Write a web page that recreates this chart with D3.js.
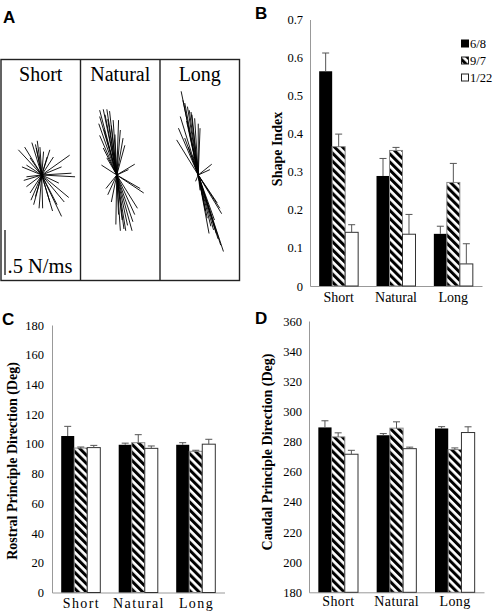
<!DOCTYPE html>
<html><head><meta charset="utf-8">
<script src="https://cdn.jsdelivr.net/npm/d3@7"></script>
<style>
html,body{margin:0;padding:0;background:#fff;}
svg{display:block;}
text{font-family:"Liberation Serif","Times New Roman",serif;fill:#000;}
.plab{font-family:"Liberation Sans",Arial,sans-serif;font-weight:bold;font-size:17px;}
</style></head><body>
<svg id="c" width="494" height="612"></svg>
<script>
// ---------- data ----------
const categories = ["Short", "Natural", "Long"];
const seriesNames = ["6/8", "9/7", "1/22"];

// Panel B: Shape Index
const shape68 = [0.564, 0.289, 0.137];
const shape68Err = [0.048, 0.046, 0.020];
const shape97 = [0.366, 0.356, 0.272];
const shape97Err = [0.033, 0.008, 0.050];
const shape122 = [0.141, 0.136, 0.058];
const shape122Err = [0.020, 0.052, 0.053];
const shapeTicks = [0, 0.1, 0.2, 0.3, 0.4, 0.5, 0.6, 0.7];

// Panel C: Rostral principle direction (deg)
const rostral68 = [105.3, 99.4, 99.4];
const rostral68Err = [6.5, 1.1, 1.4];
const rostral97 = [97.2, 100.8, 95.0];
const rostral97Err = [0.7, 5.4, 0.7];
const rostral122 = [97.5, 97.0, 99.8];
const rostral122Err = [1.5, 1.6, 3.3];
const rostralTicks = [0, 20, 40, 60, 80, 100, 120, 140, 160, 180];

// Panel D: Caudal principle direction (deg)
const caudal68 = [289.4, 284.2, 288.7];
const caudal68Err = [4.4, 1.1, 1.2];
const caudal97 = [283.1, 288.9, 274.7];
const caudal97Err = [2.7, 4.2, 1.1];
const caudal122 = [271.6, 275.3, 286.0];
const caudal122Err = [2.6, 1.0, 3.8];
const caudalTicks = [180, 200, 220, 240, 260, 280, 300, 320, 340, 360];

// Panel A: force vectors [horizontal, vertical(up)] in N/ms
const shortForces = [[-0.26,0.28],[-0.19,0.31],[-0.11,0.36],[-0.07,0.34],[-0.06,0.30],[0.02,0.26],[0.09,0.28],[0.13,0.20],[0.31,0.22],[0.22,0.09],[0.37,-0.02],[0.33,0.02],[0.19,-0.09],[0.30,-0.25],[0.22,-0.46],[0.17,-0.33],[0.09,-0.30],[0.01,-0.37],[-0.03,-0.37],[-0.07,-0.24],[-0.13,-0.20],[-0.17,-0.13],[-0.20,-0.06],[-0.17,-0.02],[-0.22,0.09],[-0.17,0.11],[-0.13,0.19],[-0.02,0.31],[0.06,0.20],[-0.09,-0.33],[-0.05,0.38],[0.12,-0.40],[0.25,-0.30],[-0.12,-0.28]];
const naturalForces = [[-0.19,0.72],[-0.15,0.73],[-0.11,0.73],[-0.08,0.71],[-0.20,0.57],[-0.19,0.65],[-0.13,0.67],[-0.04,0.61],[0.02,0.61],[0.07,0.41],[0.09,0.33],[-0.19,0.44],[-0.15,0.30],[-0.11,0.19],[-0.17,0.11],[0.20,0.12],[0.13,0.06],[0.30,-0.20],[0.26,-0.15],[0.04,-0.62],[0.08,-0.60],[0.12,-0.56],[0.17,-0.62],[0.18,-0.52],[0.20,-0.44],[0.23,-0.37],[-0.01,-0.55],[-0.06,-0.30],[-0.10,-0.22],[-0.12,-0.15],[0.02,-0.44],[-0.10,0.62],[-0.06,0.55],[-0.14,0.50],[0.04,0.50],[-0.02,0.45],[0.06,-0.50],[0.10,-0.62]];
const longForces = [[-0.19,0.93],[-0.17,0.83],[-0.15,0.80],[-0.12,0.76],[-0.10,0.72],[-0.07,0.67],[-0.04,0.63],[0.00,0.57],[0.02,0.52],[-0.20,0.65],[-0.22,0.52],[-0.24,0.39],[-0.15,0.41],[-0.11,0.31],[-0.06,0.22],[0.15,0.12],[0.13,0.06],[0.28,-0.85],[0.25,-0.78],[0.22,-0.71],[0.20,-0.65],[0.17,-0.61],[0.14,-0.57],[0.26,-0.43],[0.24,-0.37],[0.21,-0.31],[0.06,-0.28],[0.02,-0.17],[-0.03,-0.07],[0.10,-0.48],[0.12,-0.65],[-0.08,0.70],[-0.13,0.60],[0.18,-0.50],[0.08,-0.40]];
const scaleBarValue = 0.5;

// ---------- drawing ----------
const svg = d3.select("#c");
const defs = svg.append("defs");
const pat = defs.append("pattern").attr("id","hatch").attr("patternUnits","userSpaceOnUse")
  .attr("width",5.7).attr("height",10).attr("patternTransform","rotate(-45)");
pat.append("rect").attr("width",5.7).attr("height",10).attr("fill","#fff");
pat.append("rect").attr("width",3.0).attr("height",10).attr("fill","#000");

const fills = ["#000", "url(#hatch)", "#fff"];
const strokes = ["none", "#888", "#333"];

function barPanel(o) {
  const g = svg.append("g");
  const y = d3.scaleLinear().domain(o.domain).range([o.y0, o.y1]);
  const x = d3.scaleBand().domain(categories).range([o.x0, o.x1]).paddingInner(0.32).paddingOuter(0.16);
  const xs = d3.scaleBand().domain(seriesNames).range([0, x.bandwidth()]);
  // axes
  const ya = g.append("g").attr("transform", `translate(${o.x0},0)`)
    .call(d3.axisLeft(y).tickValues(o.ticks).tickFormat(o.fmt).tickSizeInner(0).tickSizeOuter(0).tickPadding(o.tpad));
  ya.select(".domain").attr("stroke","#999");
  ya.selectAll("text").attr("font-family","Liberation Serif, Times New Roman, serif").attr("font-size", 12.5).attr("fill","#000");
  const xAxisScale = d3.scaleBand().domain(categories).range([o.x0, o.x1]).paddingInner(0.32).paddingOuter(0.16);
  const xa = g.append("g").attr("transform", `translate(0,${o.y0})`)
    .call(d3.axisBottom(xAxisScale).tickSizeInner(0).tickSizeOuter(0).tickPadding(o.xpad));
  xa.select(".domain").attr("stroke","#999");
  xa.selectAll("text").attr("font-family","Liberation Serif, Times New Roman, serif")
    .attr("font-size", o.xfs).attr("letter-spacing", o.ls).attr("fill","#000")
    .attr("dx", o.ls/2);
  // bars
  o.values.forEach((vals, si) => {
    categories.forEach((c, ci) => {
      const bx = x(c) + xs(seriesNames[si]);
      const v = vals[ci], e = o.errs[si][ci];
      const top = y(v);
      g.append("rect").attr("x", bx).attr("y", top).attr("width", xs.bandwidth())
        .attr("height", o.y0 - top).attr("fill", fills[si])
        .attr("stroke", strokes[si]).attr("stroke-width", strokes[si] === "none" ? 0 : 1);
      const cx = bx + xs.bandwidth()/2;
      g.append("line").attr("x1", cx).attr("x2", cx).attr("y1", top).attr("y2", y(v + e))
        .attr("stroke", "#555").attr("stroke-width", 1);
      g.append("line").attr("x1", cx - 3.5).attr("x2", cx + 3.5).attr("y1", y(v + e)).attr("y2", y(v + e))
        .attr("stroke", "#555").attr("stroke-width", 1);
    });
  });
  // title
  g.append("text").attr("transform", `translate(${o.tx},${o.ty}) rotate(-90)`)
    .attr("text-anchor","middle").attr("font-weight","bold").attr("font-size", 14).text(o.title);
  return g;
}

barPanel({
  domain:[0,0.7], y0:286, y1:19.5, x0:310, x1:482, ticks:shapeTicks,
  fmt:d => d === 0 ? "0" : d3.format(".1f")(d), tpad:7, xpad:6, xfs:14, ls:0,
  values:[shape68, shape97, shape122], errs:[shape68Err, shape97Err, shape122Err],
  title:"Shape Index", tx:282, ty:149
});
barPanel({
  domain:[0,180], y0:592.5, y1:325, x0:52, x1:224.5, ticks:rostralTicks,
  fmt:d3.format("d"), tpad:8, xpad:6, xfs:14, ls:1.4,
  values:[rostral68, rostral97, rostral122], errs:[rostral68Err, rostral97Err, rostral122Err],
  title:"Rostral Principle Direction (Deg)", tx:17, ty:461
});
barPanel({
  domain:[180,360], y0:592.3, y1:321, x0:309, x1:484, ticks:caudalTicks,
  fmt:d3.format("d"), tpad:7, xpad:4, xfs:14, ls:0.4,
  values:[caudal68, caudal97, caudal122], errs:[caudal68Err, caudal97Err, caudal122Err],
  title:"Caudal Principle Direction (Deg)", tx:272, ty:452
});

// legend (panel B)
const leg = svg.append("g").attr("transform","translate(461,44)");
seriesNames.forEach((s, i) => {
  const r = leg.append("g").attr("transform", `translate(0,${i*17})`);
  r.append("rect").attr("x",0.5).attr("y",-4).attr("width",7).attr("height",7)
    .attr("fill", fills[i]).attr("stroke", i === 0 ? "#000" : "#222").attr("stroke-width", 1);
  r.append("text").attr("x",9).attr("y",3.5).attr("font-size",12.5).text(s);
});

// ---------- Panel A ----------
const aBox = {x0:1, x1:239.5, y0:59.5, y1:280.5};
const ax = d3.scaleBand().domain(categories).range([aBox.x0, aBox.x1]);
const forceScale = d3.scaleLinear().domain([0, scaleBarValue]).range([0, 45]);
const originNudge = [1, -3.5, -1.5];
const originY = 175;
const A = svg.append("g");
A.append("rect").attr("x",aBox.x0).attr("y",aBox.y0).attr("width",aBox.x1-aBox.x0).attr("height",aBox.y1-aBox.y0)
  .attr("fill","none").attr("stroke","#222").attr("stroke-width",1.4);
categories.slice(1).forEach(c => {
  A.append("line").attr("x1",ax(c)).attr("x2",ax(c)).attr("y1",aBox.y0).attr("y2",aBox.y1)
    .attr("stroke","#222").attr("stroke-width",1.4);
});
[shortForces, naturalForces, longForces].forEach((forces, i) => {
  const c = categories[i];
  const ox = ax(c) + ax.bandwidth()/2 + originNudge[i];
  A.append("text").attr("x", ax(c) + ax.bandwidth()/2).attr("y", 81).attr("text-anchor","middle")
    .attr("font-size", 20).text(c);
  A.selectAll(null).data(forces).enter().append("line")
    .attr("x1", ox).attr("y1", originY)
    .attr("x2", d => ox + Math.sign(d[0]) * forceScale(Math.abs(d[0])))
    .attr("y2", d => originY - Math.sign(d[1]) * forceScale(Math.abs(d[1])))
    .attr("stroke","#000").attr("stroke-width",0.9);
});
// scale bar
A.append("line").attr("x1",5).attr("x2",5).attr("y1",275).attr("y2",275 - forceScale(scaleBarValue))
  .attr("stroke","#000").attr("stroke-width",1.2);
A.append("text").attr("x",7.5).attr("y",272.5).attr("font-size",20.5).text(".5 N/ms");

// panel letters
[["A",3,23],["B",255,18.5],["C",2,325],["D",255,323.5]].forEach(([t,x,y]) => {
  svg.append("text").attr("class","plab").attr("x",x).attr("y",y).text(t);
});
</script>
</body></html>
